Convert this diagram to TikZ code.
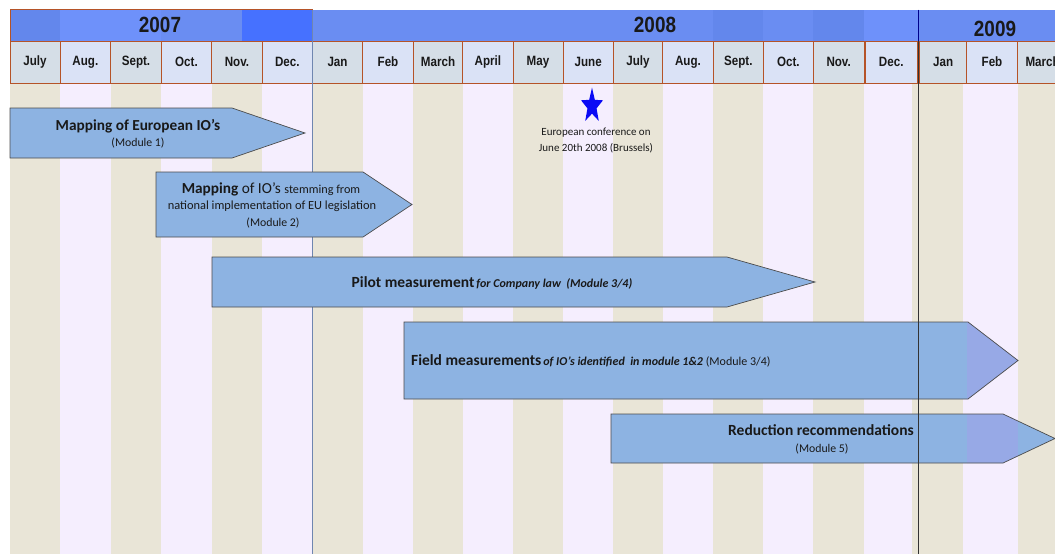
\documentclass[tikz,border=0pt]{standalone}
\usepackage{fontspec}
\setmainfont{Carlito}
\newfontfamily\headfont[FakeStretch=0.86]{Liberation Sans}
\usetikzlibrary{shapes.geometric}

\definecolor{colbeige}{HTML}{E9E5D7}
\definecolor{collav}{HTML}{F5EEFE}
\definecolor{hdgray}{HTML}{D5DEE7}
\definecolor{hdblue}{HTML}{DAE2F6}
\definecolor{cellbrown}{HTML}{B55328}
\definecolor{yearblue}{HTML}{6A8DF2}
\definecolor{yearlight}{HTML}{6E91FA}
\definecolor{yeardark}{HTML}{6387EC}
\definecolor{yeardeep}{HTML}{4671FF}
\definecolor{taskblue}{HTML}{8DB3E2}
\definecolor{febtint}{HTML}{A59FEB}
\definecolor{starblue}{HTML}{0A0AF5}
\definecolor{janline}{HTML}{6F86B0}

\begin{document}
\begin{tikzpicture}[x=1pt,y=-1pt,
		every node/.style={inner sep=0pt,text=black!90},
		month/.style={font=\headfont\bfseries\fontsize{13.5}{14}\selectfont},
		yearlabel/.style={font=\headfont\bfseries\fontsize{22}{24}\selectfont},
		task/.style={draw=black!70,fill=taskblue,line width=0.7pt,
			path picture={\fill[febtint,opacity=0.45] (967,0) rectangle (1018,554);}},
		big/.style={font=\fontsize{15.3}{17}\selectfont\bfseries},
		small/.style={font=\fontsize{11.8}{13}\selectfont}]
	\useasboundingbox (0,0) rectangle (1055,554);
	\clip (0,0) rectangle (1055,554);

	% month columns
	\foreach \xa/\xb [count=\i] in {10/60,60/110.7,110.7/161.3,161.3/211.7,211.7/262.3,262.3/312.3,
			312.3/362.7,362.7/413.3,413.3/462.7,462.7/513,513/563,563/613.3,613.3/662.7,662.7/713.3,
			713.3/763.3,763.3/813.3,813.3/864,864/912,912/963,963/1018,1018/1068}{
		\ifodd\i \fill[colbeige] (\xa,83) rectangle (\xb,554);
		\else \fill[collav] (\xa,83) rectangle (\xb,554); \fi
	}

	% year band
	\fill[yearblue] (10,9.5) rectangle (1055,41);
	\fill[yeardark] (10,9.5) rectangle (60,41);
	\fill[yearlight] (60,9.5) rectangle (161.3,41);
	\fill[yeardeep] (242,9.5) rectangle (312.3,41);
	\fill[yeardark] (713.3,9.5) rectangle (763.3,41);
	\fill[yeardark] (813.3,9.5) rectangle (864,41);
	\fill[yearlight] (864,9.5) rectangle (918,41);
	\draw[cellbrown,line width=0.8pt] (10,9.5) rectangle (312.3,41);
	\node[yearlabel] (y2007) at (160,25) {2007};
	\node[yearlabel] (y2008) at (655,25) {2008};
	\node[yearlabel] (y2009) at (995,28.5) {2009};

	% month cells
	\foreach \xa/\xb/\m [count=\i] in {10/60/July,60/110.7/Aug.,110.7/161.3/Sept.,161.3/211.7/Oct.,
			211.7/262.3/Nov.,262.3/312.3/Dec.,312.3/362.7/Jan,362.7/413.3/Feb,413.3/462.7/March,
			462.7/513/April,513/563/May,563/613.3/June,613.3/662.7/July,662.7/713.3/Aug.,
			713.3/763.3/Sept.,763.3/813.3/Oct.,813.3/864/Nov.,865.5/917/Dec.,919.5/966.7/Jan,
			966.7/1017.3/Feb,1017.3/1068/March}{
		\ifodd\i \draw[cellbrown,fill=hdgray,line width=1pt] (\xa,41) rectangle (\xb,83);
		\else \draw[cellbrown,fill=hdblue,line width=1pt] (\xa,41) rectangle (\xb,83); \fi
		\node[month] (m\i) at ({(\xa+\xb)/2},62) {\m};
	}

	\draw[janline,line width=0.8pt] (312.3,9.5) -- (312.3,554);

	% conference
	\begin{scope}[shift={(592,106)},yscale=1.6]
		\node[star,star points=5,star point ratio=2.4,fill=starblue,minimum size=23pt,transform shape] (star) at (0,0) {};
	\end{scope}
	\node[align=center,font=\fontsize{11}{15.5}\selectfont] (conf) at (596,140.5) {European conference on\\June 20th 2008 (Brussels)};

	% modules
	\draw[task] (10,108) -- (232,108) -- (305,133) -- (232,158) -- (10,158) -- cycle;
	\node[big] (mod1a) at (138,126) {Mapping of European IO’s};
	\node[small] (mod1b) at (138,143) {(Module 1)};

	\draw[task] (156,172) -- (363,172) -- (412,204.5) -- (363,237) -- (156,237) -- cycle;
	\node (mod2a) at (271,189) {\fontsize{15.3}{17}\selectfont\textbf{Mapping} of IO’s \fontsize{12.2}{13}\selectfont stemming from};
	\node[small,font=\fontsize{12.4}{13}\selectfont] (mod2b) at (272,206) {national implementation of EU legislation};
	\node[small] (mod2c) at (273,223) {(Module 2)};

	\draw[task] (212,257) -- (727,257) -- (815,282) -- (727,307) -- (212,307) -- cycle;
	\node (mod3) at (492,283) {\fontsize{15.5}{17}\selectfont\textbf{Pilot measurement}\fontsize{12}{13}\selectfont\,\textbf{\textit{for Company law\ \ (Module 3/4)}}};

	\draw[task] (404,322) -- (968,322) -- (1018,360.5) -- (968,399) -- (404,399) -- cycle;
	\node[anchor=west] (mod4) at (411,361) {\fontsize{15.5}{17}\selectfont\textbf{Field measurements}\fontsize{12}{13}\selectfont\,\textbf{\textit{of IO’s identified\ \ in module 1\&2}} (Module 3/4)};

	\draw[task] (611,414) -- (1003,414) -- (1055,438.5) -- (1003,463) -- (611,463) -- cycle;
	\node[font=\fontsize{15.5}{17}\selectfont\bfseries] (mod5a) at (821,430) {Reduction recommendations};
	\node[small] (mod5b) at (822,449) {(Module 5)};

	\draw[blue!55!black,line width=0.8pt] (918,9.5) -- (918,41);
	\draw[black!80,line width=0.9pt] (918,41) -- (918,554);
\end{tikzpicture}
\end{document}
